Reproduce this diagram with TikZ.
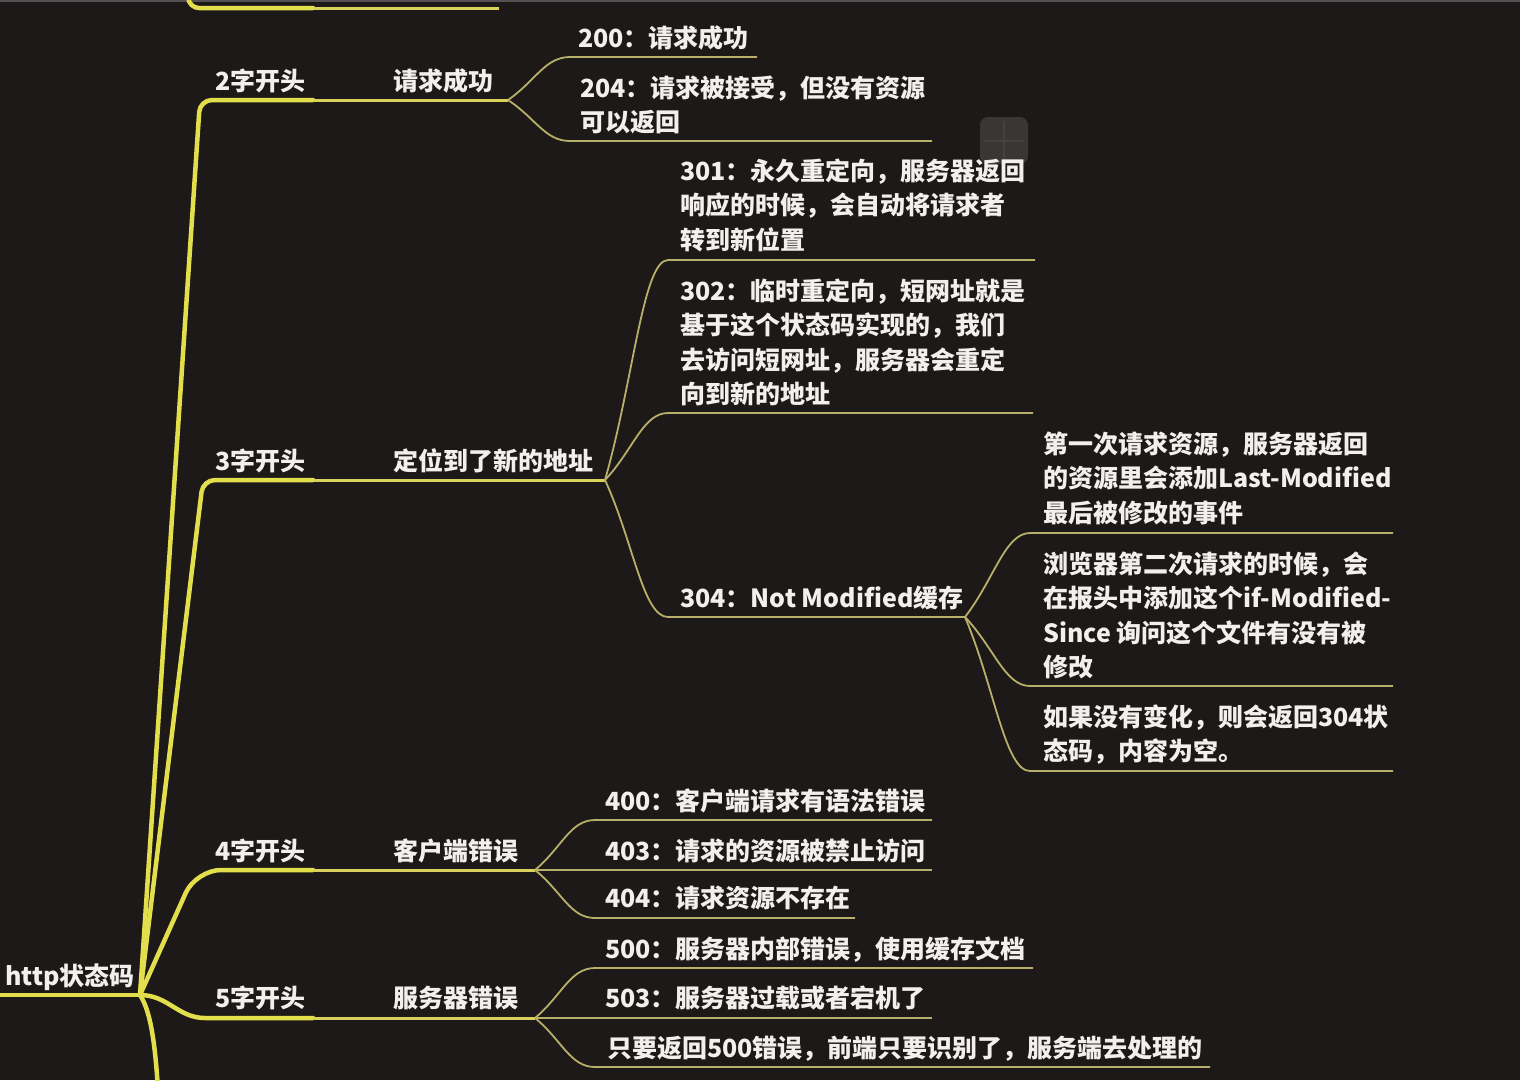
\documentclass[tikz,border=0pt]{standalone}
\usepackage{fontspec}
\setmainfont{Noto Sans CJK SC}
\usetikzlibrary{calc}
\definecolor{bg}{HTML}{1C1918}
\definecolor{ya}{HTML}{E3DE4C}
\definecolor{yb}{HTML}{D8D15A}
\definecolor{yc}{HTML}{B8B068}
\definecolor{tx}{HTML}{F2F0EC}
\newcommand{\fst}{\rule{0pt}{23pt}}
\begin{document}
\begin{tikzpicture}[x=1pt,y=-1pt,
  txt/.style={text=tx, font=\bfseries\fontsize{25}{34.5}\selectfont, inner sep=0pt, align=left, anchor=base west},
  mtxt/.style={txt, anchor=north west},
  trunk/.style={draw=ya, line width=4.5pt, line cap=round, line join=round},
  mid/.style={draw=yb, line width=3pt},
  leaf/.style={draw=yc, line width=1.8pt},
  leafc/.style={to path={.. controls ($(\tikztostart)!0.45!(\tikztotarget)$) and ($(\tikztotarget)+(-25,0)$) .. (\tikztotarget) \tikztonodes}}]
\useasboundingbox (0,0) rectangle (1520,1080);
\fill[bg] (0,0) rectangle (1520,1080);
\clip (0,0) rectangle (1520,1080);
\draw[line width=2.5pt, draw=gray!55!bg] (0,1) -- (1520,1);
% faint overlay square
\fill[white, opacity=0.13, rounded corners=8pt] (980,117) rectangle (1028,164);
\draw[white, opacity=0.06, line width=2pt] (1004,121) -- (1004,160) (984,141) -- (1024,141);

% hubs
\coordinate (hub) at (140,995);
\coordinate (h2) at (508,100);
\coordinate (h3) at (605,480);
\coordinate (h4) at (535,870);
\coordinate (h5) at (535,1018);
\coordinate (h304) at (965,617);
% leaf starts
\coordinate (e200) at (570,57);
\coordinate (e204) at (570,141);
\coordinate (e301) at (668,260);
\coordinate (e302) at (668,413);
\coordinate (e304) at (668,617);
\coordinate (ef1) at (1030,533);
\coordinate (ef2) at (1030,686);
\coordinate (ef3) at (1030,771);
\coordinate (e400) at (595,820);
\coordinate (e404) at (595,918);
\coordinate (e500) at (595,968);
\coordinate (e5x) at (595,1067);

% trunk
\draw[trunk] (-5,995) -- (hub);
\draw[trunk, rounded corners=10pt] (186,-30) -- (189,8) -- (313,8);
\draw[trunk, rounded corners=12pt] (hub) -- (200,100) -- (313,100);
\draw[trunk, rounded corners=12pt] (hub) -- (203,480) -- (313,480);
\draw[trunk, rounded corners=25pt] (hub) -- (196,870) -- (313,870);
\draw[trunk] (hub) .. controls (168,995) and (178,1018) .. (205,1018) -- (313,1018);
\draw[trunk] (hub) .. controls (150,1010) and (155,1040) .. (158,1090);

% second level segments
\draw[mid] (313,8) -- (499,8);
\draw[mid] (313,100) -- (h2);
\draw[mid] (313,480) -- (h3);
\draw[mid] (313,870) -- (h4);
\draw[mid] (313,1018) -- (h5);

% leaves
\draw[leaf] (h2) to[leafc] (e200) -- (757,57);
\draw[leaf] (h2) to[leafc] (e204) -- (932,141);
\draw[leaf] (h3) to[leafc] (e301) -- (1035,260);
\draw[leaf] (h3) to[leafc] (e302) -- (1033,413);
\draw[leaf] (h3) to[leafc] (e304) -- (h304);
\draw[leaf] (h304) to[leafc] (ef1) -- (1393,533);
\draw[leaf] (h304) to[leafc] (ef2) -- (1393,686);
\draw[leaf] (h304) to[leafc] (ef3) -- (1393,771);
\draw[leaf] (h4) to[leafc] (e400) -- (932,820);
\draw[leaf] (h4) -- (932,870);
\draw[leaf] (h4) to[leafc] (e404) -- (855,918);
\draw[leaf] (h5) to[leafc] (e500) -- (1033,968);
\draw[leaf] (h5) -- (932,1018);
\draw[leaf] (h5) to[leafc] (e5x) -- (1210,1067);

% texts
\node[txt] (root) at (5,985) {http状态码};
\node[txt] (l2) at (215,90) {2字开头};
\node[txt] (s2) at (393,90) {请求成功};
\node[txt] (l3) at (215,470) {3字开头};
\node[txt] (s3) at (393,470) {定位到了新的地址};
\node[txt] (l4) at (215,860) {4字开头};
\node[txt] (s4) at (393,860) {客户端错误};
\node[txt] (l5) at (215,1007) {5字开头};
\node[txt] (s5) at (393,1007) {服务器错误};

\node[txt] (n200) at (578,47) {200：请求成功};
\node[mtxt] (n204) at (580,74) {\fst 204：请求被接受，但没有资源\\可以返回};
\node[mtxt] (n301) at (680,157) {\fst 301：永久重定向，服务器返回\\响应的时候，会自动将请求者\\转到新位置};
\node[mtxt] (n302) at (680,277) {\fst 302：临时重定向，短网址就是\\基于这个状态码实现的，我们\\去访问短网址，服务器会重定\\向到新的地址};
\node[txt] (n304) at (680,607) {304：Not Modified缓存};
\node[mtxt] (f1) at (1043,430) {\fst 第一次请求资源，服务器返回\\的资源里会添加Last-Modified\\最后被修改的事件};
\node[mtxt] (f2) at (1043,550) {\fst 浏览器第二次请求的时候，会\\在报头中添加这个if-Modified-\\Since 询问这个文件有没有被\\修改};
\node[mtxt] (f3) at (1043,703) {\fst 如果没有变化，则会返回304状\\态码，内容为空。};
\node[txt] (n400) at (605,810) {400：客户端请求有语法错误};
\node[txt] (n403) at (605,860) {403：请求的资源被禁止访问};
\node[txt] (n404) at (605,907) {404：请求资源不存在};
\node[txt] (n500) at (605,958) {500：服务器内部错误，使用缓存文档};
\node[txt] (n503) at (605,1007) {503：服务器过载或者宕机了};
\node[txt] (n5x) at (607,1057) {只要返回500错误，前端只要识别了，服务端去处理的};
\end{tikzpicture}
\end{document}
